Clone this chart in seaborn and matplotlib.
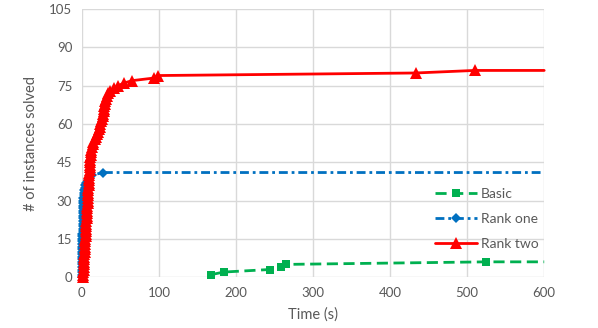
import matplotlib
matplotlib.use("Agg")
import matplotlib.pyplot as plt
import seaborn as sns
import pandas as pd

# ── DATA ────────────────────────────────────────────────────
basic_time = [168, 184, 244, 258, 265, 525, 600]
basic_solved = [1, 2, 3, 4, 5, 6, 6]

rank_one_time = [0.1, 0.1, 0.2, 0.2, 0.2, 0.3, 0.3, 0.3, 0.4, 0.4,
                 0.4, 0.5, 0.5, 0.5, 0.6, 0.6, 0.7, 0.7, 0.8, 0.8,
                 0.9, 0.9, 1.0, 1.0, 1.1, 1.2, 1.3, 1.4, 1.5, 1.6,
                 1.8, 2.0, 2.3, 2.6, 3.0, 3.5, 4.2, 5.5, 7.5, 9.5,
                 13, 28, 600]
rank_one_solved = [0, 1, 2, 3, 4, 5, 6, 7, 8, 9,
                   10, 11, 12, 13, 14, 15, 16, 17, 18, 19,
                   20, 21, 22, 23, 24, 25, 26, 27, 28, 29,
                   30, 31, 32, 33, 34, 35, 36, 37, 38, 39,
                   40, 41, 41]

rank_two_time = [1.5, 1.7, 1.9, 2.1, 2.3, 2.5, 2.7, 2.9, 3.1, 3.3,
                 3.5, 3.7, 3.9, 4.1, 4.3, 4.5, 4.7, 4.9, 5.1, 5.3,
                 5.5, 5.7, 5.9, 6.1, 6.3, 6.5, 6.7, 6.9, 7.1, 7.3,
                 7.5, 7.7, 7.9, 8.1, 8.3, 8.5, 8.7, 8.9, 9.1, 9.3,
                 9.5, 9.7, 9.9, 10.1, 10.3, 10.5, 10.7, 10.9, 11.2, 11.5,
                 12.0, 13, 14, 15, 16.5, 18, 19.5, 21, 22, 23,
                 24, 25, 26, 26.8, 27.6, 28.2, 28.8, 29.3, 29.8, 30.3,
                 31, 32, 34, 37, 41, 47, 54, 65, 93, 99,
                 433, 510, 600]
rank_two_solved = [0, 1, 2, 3, 4, 5, 6, 7, 8, 9,
                   10, 11, 12, 13, 14, 15, 16, 17, 18, 19,
                   20, 21, 22, 23, 24, 25, 26, 27, 28, 29,
                   30, 31, 32, 33, 34, 35, 36, 37, 38, 39,
                   40, 41, 42, 43, 44, 45, 46, 47, 48, 49,
                   50, 51, 52, 53, 54, 55, 56, 57, 58, 59,
                   60, 61, 62, 63, 64, 65, 66, 67, 68, 69,
                   70, 71, 72, 73, 74, 75, 76, 77, 78, 79,
                   80, 81, 81]

x_ticks = [0, 100, 200, 300, 400, 500, 600]
y_ticks = [0, 15, 30, 45, 60, 75, 90, 105]

# ── STYLE ───────────────────────────────────────────────────
sns.set_style("white")
plt.rcParams['font.family'] = ['Lato', 'DejaVu Sans']
TEXT = '#595959'
GRID = '#D9D9D9'

fig = plt.figure(figsize=(5.98, 3.28), dpi=100)
ax = fig.add_axes([0.137, 0.155, 0.773, 0.817])

series = [
    ("Basic", basic_time, basic_solved, '#00B050', 's', 6, (0, (4, 2))),
    ("Rank one", rank_one_time, rank_one_solved, '#0070C0', 'D', 5.5, (0, (3.2, 1.4, 1, 1.4))),
    ("Rank two", rank_two_time, rank_two_solved, '#FF0000', '^', 8, '-'),
]

for name, t, s, color, marker, ms, ls in series:
    df = pd.DataFrame({'time': t, 'solved': s})
    sns.lineplot(data=df, x='time', y='solved', ax=ax, sort=False, estimator=None,
                 color=color, marker=marker, markersize=ms, markeredgewidth=0,
                 markevery=slice(0, len(t) - 1), linestyle=ls, linewidth=2,
                 label=name, clip_on=False, zorder=3)

ax.set_xlim(0, 600)
ax.set_ylim(0, 105)
ax.set_xticks(x_ticks)
ax.set_yticks(y_ticks)
ax.grid(True, color=GRID, linewidth=1)
ax.set_axisbelow(True)
for sp in ax.spines.values():
    sp.set_visible(False)
ax.tick_params(length=0, labelsize=9.5, colors=TEXT, pad=7)
ax.set_xlabel('Time (s)', fontsize=10.5, color=TEXT, labelpad=6)
ax.set_ylabel('# of instances solved', fontsize=10.5, color=TEXT, labelpad=8)

leg = ax.legend(loc='upper right', bbox_to_anchor=(1.0, 0.355), frameon=False,
                fontsize=10, handlelength=3.0, labelspacing=0.95, handletextpad=0.3,
                borderaxespad=0)
for txt in leg.get_texts():
    txt.set_color(TEXT)

plt.savefig('out.png', dpi=100)
plt.close()
